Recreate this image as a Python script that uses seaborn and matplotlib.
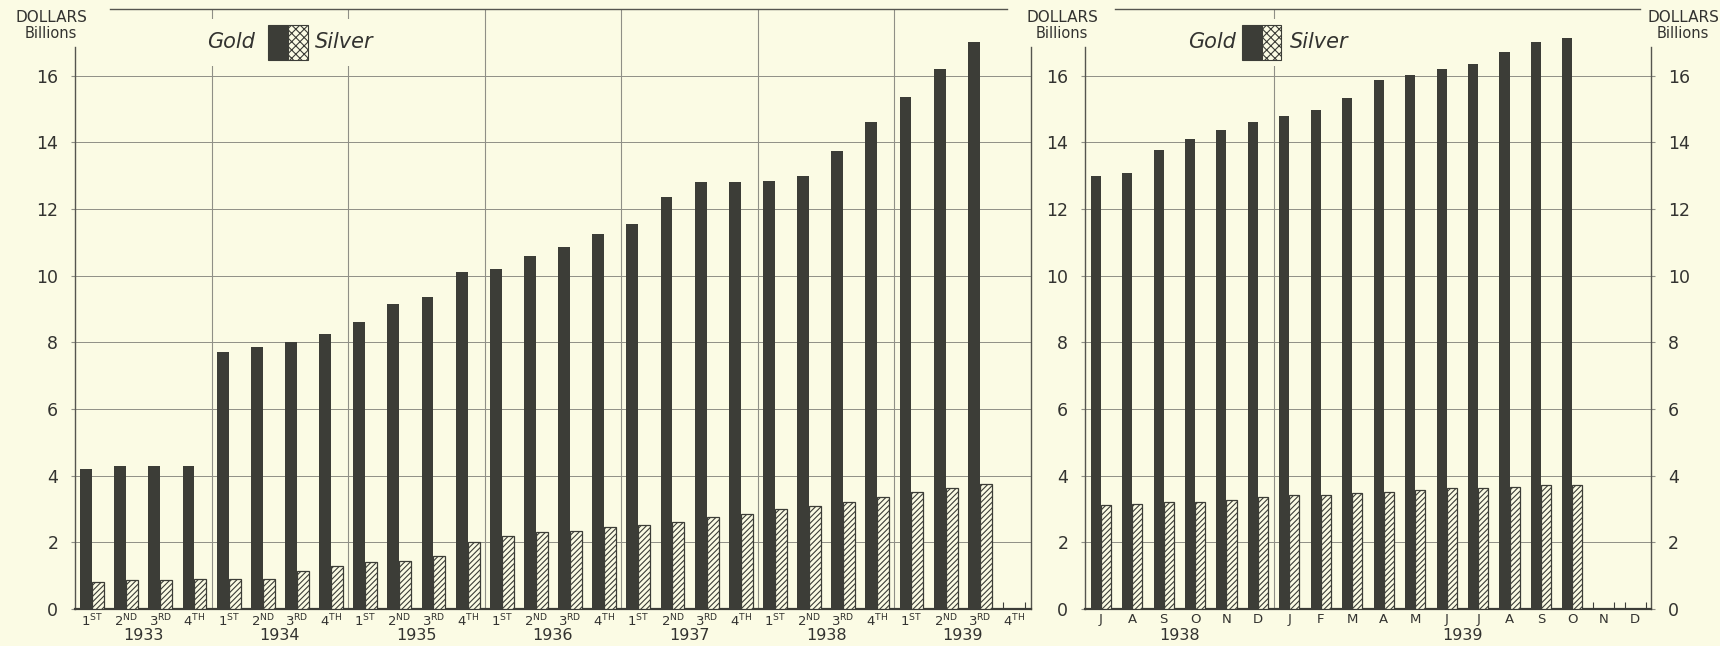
import numpy as np
import pandas as pd
import matplotlib
matplotlib.use("Agg")
import matplotlib.pyplot as plt
import matplotlib.transforms as mtransforms
from matplotlib.patches import Rectangle
import seaborn as sns

# gold and silver stocks, billions of dollars
quarter_years = ["1933", "1934", "1935", "1936", "1937", "1938", "1939"]
quarter_names = [("1", "ST"), ("2", "ND"), ("3", "RD"), ("4", "TH")]
gold_q = [4.2, 4.3, 4.3, 4.3,
          7.7, 7.85, 8.0, 8.25,
          8.6, 9.15, 9.35, 10.1,
          10.2, 10.6, 10.85, 11.25,
          11.55, 12.35, 12.8, 12.8,
          12.85, 13.0, 13.75, 14.6,
          15.35, 16.2, 17.0, np.nan]
silver_q = [0.82, 0.87, 0.87, 0.9,
            0.9, 0.9, 1.15, 1.3,
            1.4, 1.45, 1.6, 2.0,
            2.2, 2.3, 2.35, 2.45,
            2.52, 2.6, 2.75, 2.85,
            3.0, 3.1, 3.2, 3.36,
            3.5, 3.62, 3.75, np.nan]

month_years = ["1938", "1939"]
month_names = ["J", "A", "S", "O", "N", "D",
               "J", "F", "M", "A", "M", "J", "J", "A", "S", "O", "N", "D"]
gold_m = [13.0, 13.07, 13.76, 14.1, 14.38, 14.6,
          14.8, 14.98, 15.34, 15.86, 16.02, 16.2, 16.35, 16.7, 17.0, 17.12,
          np.nan, np.nan]
silver_m = [3.12, 3.15, 3.2, 3.22, 3.28, 3.35,
            3.42, 3.43, 3.47, 3.52, 3.58, 3.62, 3.64, 3.66, 3.72, 3.73,
            np.nan, np.nan]

PAPER = "#fbfbe4"
INK = "#3c3d37"
TEXT = "#333330"
GRID = "#8f8f86"

plt.rcParams["font.family"] = ["DejaVu Sans"]
plt.rcParams["mathtext.default"] = "regular"
plt.rcParams["hatch.linewidth"] = 0.8
plt.rcParams["hatch.color"] = INK


def long_frame(gold, silver):
    n = len(gold)
    slots = [f"s{i}" for i in range(n)]
    df = pd.DataFrame({
        "slot": slots * 2,
        "metal": ["Gold"] * n + ["Silver"] * n,
        "value": list(gold) + list(silver),
    }).dropna()
    return df, slots


def draw_panel(ax, gold, silver, width, group_sizes, group_names, tick_labels):
    df, slots = long_frame(gold, silver)
    sns.barplot(data=df, x="slot", y="value", hue="metal", order=slots,
                hue_order=["Gold", "Silver"],
                palette={"Gold": INK, "Silver": PAPER},
                width=width, saturation=1, legend=False, ax=ax,
                zorder=3, linewidth=0)
    for bar in ax.containers[1]:
        bar.set_hatch("//////")
        bar.set_edgecolor(INK)
        bar.set_linewidth(0.9)
    n = len(slots)
    ax.set_xlim(-0.5, n - 0.5)
    ax.set_ylim(0, 18)
    ax.set_facecolor(PAPER)
    ax.set_xlabel("")
    ax.set_ylabel("")
    ax.set_yticks(range(0, 17, 2))
    ax.set_yticklabels([str(v) for v in range(0, 17, 2)])
    ax.yaxis.grid(True, color=GRID, lw=0.7)
    ax.set_axisbelow(True)
    # year dividers
    edge = 0
    for size in group_sizes[:-1]:
        edge += size
        ax.axvline(edge - 0.5, color=GRID, lw=0.8, zorder=1)
    # x labels
    ax.set_xticks(range(n))
    ax.set_xticklabels(tick_labels)
    empty = [i for i in range(n) if np.isnan(gold[i])]
    minor = [i + d for i in empty for d in (-0.33, 0.0, 0.33)]
    ax.set_xticks(minor, minor=True)
    ax.tick_params(axis="x", which="major", length=0, pad=3, colors=TEXT)
    ax.tick_params(axis="x", which="minor", direction="in", length=5,
                   width=0.8, color=INK)
    ax.tick_params(axis="y", length=3, pad=9, labelsize=12.5, colors=TEXT,
                   color=GRID)
    trans = mtransforms.blended_transform_factory(ax.transData, ax.transAxes)
    start = 0
    for size, name in zip(group_sizes, group_names):
        ax.text(start + (size - 1) / 2, -0.044, name, transform=trans,
                ha="center", va="center", fontsize=11.5, color=TEXT)
        start += size
    for side in ("left", "right", "top", "bottom"):
        ax.spines[side].set_color("#55554f")
        ax.spines[side].set_linewidth(1.0)
    ax.spines["bottom"].set_linewidth(1.6)
    ax.spines["bottom"].set_color(INK)
    ax.spines["left"].set_bounds(0, 16.85)
    ax.spines["right"].set_bounds(0, 16.85)


def draw_key(ax, gold_right, patch_left, patch_w, silver_left):
    y0, y1 = 0.915, 0.973
    ax.add_patch(Rectangle((gold_right - 0.07, y0 - 0.01), silver_left - gold_right + 0.15,
                           y1 - y0 + 0.02, transform=ax.transAxes,
                           facecolor=PAPER, edgecolor="none", zorder=4))
    ax.text(gold_right, 0.945, "Gold", style="italic", fontsize=15, color=TEXT,
            ha="right", va="center", transform=ax.transAxes, zorder=5)
    ax.add_patch(Rectangle((patch_left, y0), patch_w, y1 - y0,
                           transform=ax.transAxes, facecolor=INK,
                           edgecolor=INK, lw=0.8, zorder=5))
    ax.add_patch(Rectangle((patch_left + patch_w, y0), patch_w, y1 - y0,
                           transform=ax.transAxes, facecolor=PAPER, hatch="xxxx",
                           edgecolor=INK, lw=0.8, zorder=5))
    ax.text(silver_left, 0.945, "Silver", style="italic", fontsize=15, color=TEXT,
            ha="left", va="center", transform=ax.transAxes, zorder=5)


fig = plt.figure(figsize=(17.2, 6.46), dpi=100)
fig.patch.set_facecolor(PAPER)

ax1 = fig.add_axes([0.0436, 0.0573, 0.5558, 0.9288])
ax2 = fig.add_axes([0.6308, 0.0573, 0.3291, 0.9288])

q_labels = [f"${n}^{{{s}}}$" for _ in quarter_years for n, s in quarter_names]
draw_panel(ax1, gold_q, silver_q, 0.7, [4] * len(quarter_years), quarter_years,
           q_labels)
ax1.tick_params(axis="x", labelsize=9.5)
ax1.spines["right"].set_visible(True)
ax1.spines["top"].set_bounds(0.53, 26.8)
draw_key(ax1, 0.188, 0.202, 0.021, 0.251)

draw_panel(ax2, gold_m, silver_m, 0.64, [6, 12], month_years, month_names)
ax2.tick_params(axis="x", labelsize=9.5)
ax2.tick_params(axis="y", right=True, labelright=True)
ax2.spines["top"].set_bounds(0.45, 17.15)
draw_key(ax2, 0.267, 0.277, 0.035, 0.362)

for x in (51, 1062, 1683):
    fig.text(x / 1720, 1 - 17 / 646, "DOLLARS", ha="center", va="center",
             fontsize=11, color=TEXT)
    fig.text(x / 1720, 1 - 33 / 646, "Billions", ha="center", va="center",
             fontsize=10.5, color=TEXT)

fig.savefig("out.png", dpi=100, facecolor=PAPER)
